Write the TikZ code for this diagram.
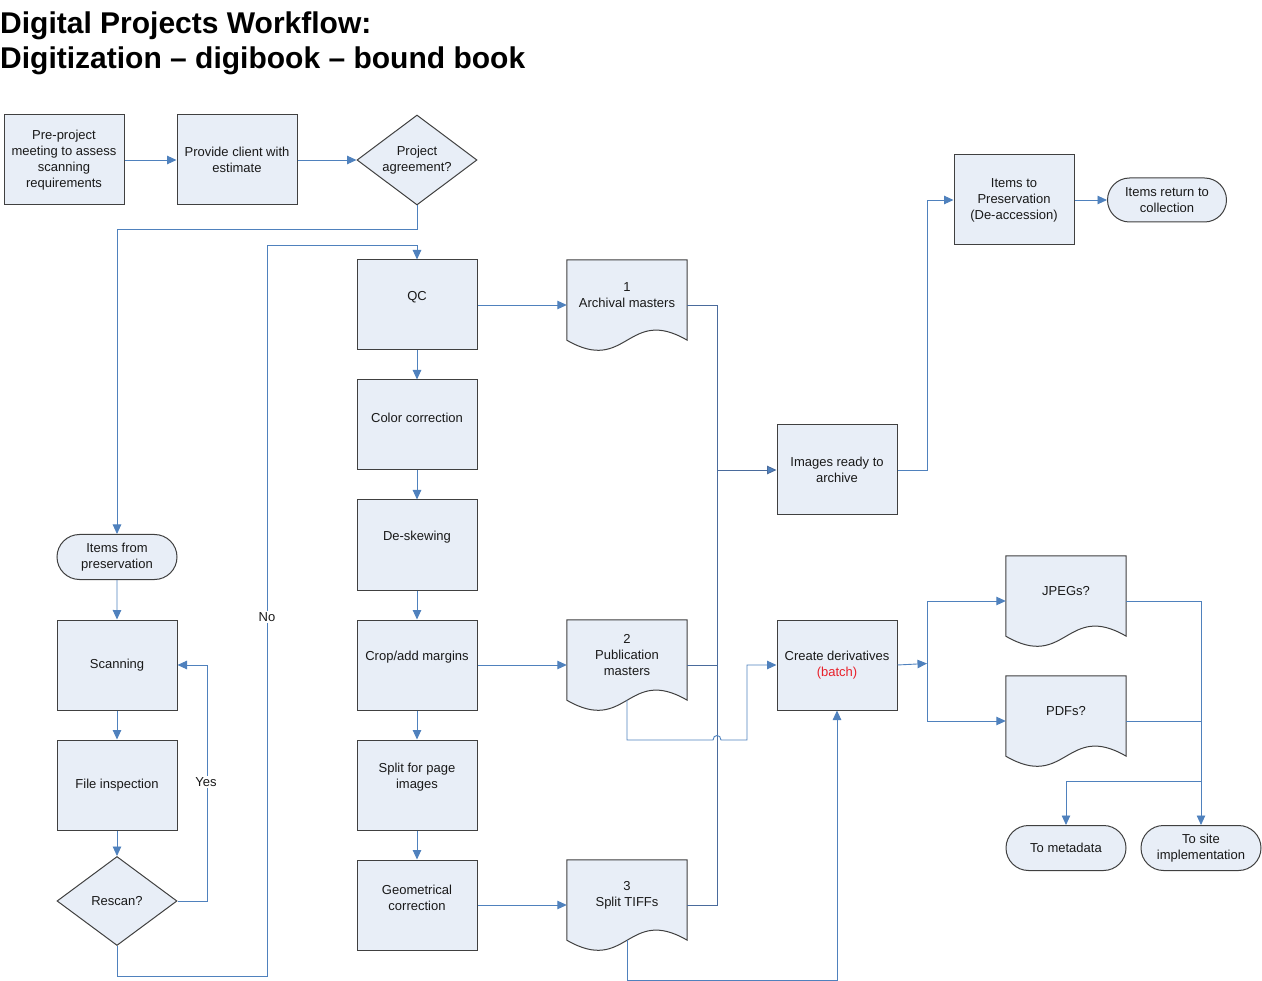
\documentclass[tikz,border=0pt]{standalone}
\usepackage{fontspec}
\setmainfont{Liberation Sans}
\usetikzlibrary{arrows.meta,shapes.geometric,shapes.misc}
\definecolor{boxfill}{HTML}{E8EEF7}
\definecolor{boxline}{HTML}{404040}
\definecolor{lineblue}{HTML}{4F81BD}
\definecolor{linedark}{HTML}{4A6B9C}
\definecolor{batchred}{HTML}{E8202A}
\newcommand\docpath[1]{%
  \draw[docdraw] (#1.north west) -- (#1.north east) -- ([yshift=10pt]#1.south east)
    .. controls ([xshift=-60pt,yshift=45pt]#1.south east) and ([xshift=-60pt,yshift=-25pt]#1.south east)
    .. ([yshift=10pt]#1.south west) -- cycle;}
\begin{document}
\begin{tikzpicture}[x=1pt,y=-1pt,
  every node/.style={font=\fontsize{13}{16}\selectfont, inner sep=0pt, align=center, text=black!90},
  proc/.style={draw=boxline, fill=boxfill, line width=1pt, minimum width=120pt, minimum height=90pt},
  term/.style={rounded rectangle, draw=boxline, fill=boxfill, line width=1pt, minimum width=120pt, minimum height=45pt},
  dec/.style={diamond, aspect=1.333, draw=boxline, fill=boxfill, line width=1pt, minimum width=120pt, minimum height=90pt},
  docnode/.style={minimum width=120pt, minimum height=90pt},
  docdraw/.style={draw=boxline, fill=boxfill, line width=1pt},
  cline/.style={draw=lineblue, line width=0.9pt},
  cdark/.style={draw=linedark, line width=0.9pt},
  arr/.style={cline, -{Triangle[length=9.5pt,width=8.5pt,fill=lineblue]}},
  arrdark/.style={cdark, -{Triangle[length=9.5pt,width=8.5pt,fill=lineblue]}},
  lab/.style={fill=white, inner sep=1.5pt},
  ttl/.style={anchor=base west, font=\fontsize{30}{36}\bfseries\selectfont, text=black}
]
\useasboundingbox (0,0) rectangle (1262,981);

% title
\node[ttl] (title1) at (0,34) {Digital Projects Workflow:};
\node[ttl] (title2) at (0,69) {Digitization – digibook – bound book};

% top row
\node[proc] (pre) at (64,160) {Pre-project\\meeting to assess\\scanning\\requirements};
\node[proc] (prov) at (237,160) {Provide client with\\estimate};
\node[dec] (agree) at (417,160) {Project\\agreement?};

% middle column
\node[proc] (qc) at (417,305) {};
\node (qct) at ([yshift=7.5pt]qc.center) {QC};
\node[proc] (color) at (417,425) {};
\node (colort) at ([yshift=7.5pt]color.center) {Color correction};
\node[proc] (deskew) at (417,545) {};
\node (deskewt) at ([yshift=7.5pt]deskew.center) {De-skewing};
\node[proc] (crop) at (417,665) {};
\node (cropt) at ([yshift=7.5pt]crop.center) {Crop/add margins};
\node[proc] (split) at (417,785) {};
\node (splitt) at ([yshift=7.5pt]split.center) {Split for page\\images};
\node[proc] (geom) at (417,905) {};
\node (geomt) at ([yshift=7.5pt]geom.center) {Geometrical\\correction};

% left column
\node[term] (itemsfrom) at (117,557) {Items from\\preservation};
\node[proc] (scan) at (117,665) {Scanning};
\node[proc] (file) at (117,785) {File inspection};
\node[dec, minimum height=89pt] (rescan) at (117,901) {Rescan?};

% documents
\node[docnode] (doc1) at (627,305) {};
\docpath{doc1}
\node (doc1t) at ([yshift=9.5pt]doc1.center) {1\\Archival masters};
\node[docnode] (doc2) at (627,665) {};
\docpath{doc2}
\node (doc2t) at ([yshift=9.5pt]doc2.center) {2\\Publication\\masters};
\node[docnode] (doc3) at (627,905) {};
\docpath{doc3}
\node (doc3t) at ([yshift=9.5pt]doc3.center) {3\\Split TIFFs};
\node[docnode] (jpeg) at (1066,601) {};
\docpath{jpeg}
\node (jpegt) at ([yshift=9.5pt]jpeg.center) {JPEGs?};
\node[docnode] (pdf) at (1066,721) {};
\docpath{pdf}
\node (pdft) at ([yshift=9.5pt]pdf.center) {PDFs?};

% right side
\node[proc] (images) at (837,470) {Images ready to\\archive};
\node[proc] (pres) at (1014,200) {Items to\\Preservation\\(De-accession)};
\node[term, minimum width=119pt, minimum height=44pt] (ret) at (1167,200) {Items return to\\collection};
\node[proc] (deriv) at (837,665) {Create derivatives\\\textcolor{batchred}{(batch)}};
\node[term] (meta) at (1066,848) {To metadata};
\node[term] (site) at (1201,848) {To site\\implementation};

% coordinates
\coordinate (noA) at (267,976);
\coordinate (noB) at (267,245);
\coordinate (bus) at (717,470);
\coordinate (hopL) at (713,740);
\coordinate (hopR) at (721,740);
\coordinate (bend2) at (747,740);
\coordinate (fork) at (927,663.5);
\coordinate (mergeA) at (1201,781);

% connectors
\draw[arr] (pre) -- (prov);
\draw[arr] (prov) -- (agree);
\draw[arr] (agree.south) -- ++(0,24) -| (itemsfrom.north);
\draw[arr] (itemsfrom) -- (scan);
\draw[arr] (scan) -- (file);
\draw[arr] (file) -- (rescan);
\draw[arr] (rescan.east) -- ++(30,0) |- (scan.east);
\node[lab] (yeslab) at (206,782) {Yes};
\draw[arr] (rescan.south) |- (noA) -- (noB) -| (qc.north);
\node[lab] (nolab) at (267,617) {No};

\draw[arr] (qc) -- (color);
\draw[arr] (color) -- (deskew);
\draw[arr] (deskew) -- (crop);
\draw[arr] (crop) -- (split);
\draw[arr] (split) -- (geom);

\draw[arr] (qc) -- (doc1);
\draw[arr] (crop) -- (doc2);
\draw[arr] (geom) -- (doc3);

\draw[cdark] (doc1.east) -| (bus);
\draw[cdark] (doc2.east) -| (bus);
\draw[cdark] (doc3.east) -| (bus);
\draw[arrdark] (bus) -- (images.west);

\draw[arr] ([yshift=10pt]doc2.south) |- (hopL) .. controls +(0,-6) and +(0,-6) .. (hopR) -- (bend2) |- (deriv.west);
\draw[arr] ([yshift=10pt]doc3.south) -- ++(0,40) -| (deriv.south);

\draw[arr] (images.east) -- ++(30,0) |- (pres.west);
\draw[arr] (pres) -- (ret);

\draw[arr] (deriv.east) -- (fork);
\draw[arr] (fork) |- (jpeg.west);
\draw[arr] (fork) |- (pdf.west);
\draw[arr] (jpeg.east) -| (site.north);
\draw[cline] (pdf.east) -- (pdf.east -| site.north);
\draw[arr] (mergeA) -| (meta.north);
\end{tikzpicture}
\end{document}
